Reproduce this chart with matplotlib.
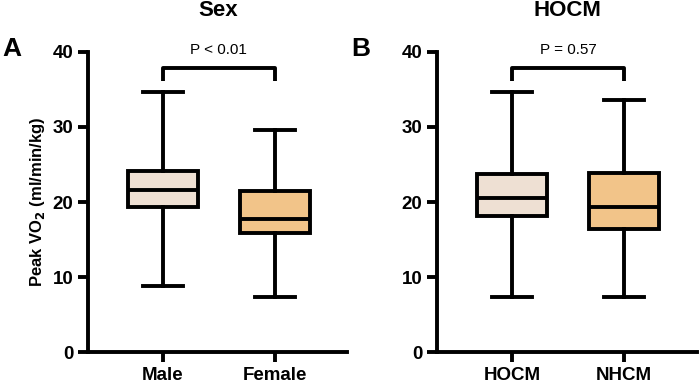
import matplotlib.pyplot as plt

# box stats (ml/min/kg)
sex_groups = ["Male", "Female"]
sex_whislo = [8.8, 7.3]
sex_q1 = [19.3, 15.9]
sex_med = [21.6, 17.7]
sex_q3 = [24.1, 21.5]
sex_whishi = [34.7, 29.6]
sex_p = "P < 0.01"

hocm_groups = ["HOCM", "NHCM"]
hocm_whislo = [7.3, 7.3]
hocm_q1 = [18.1, 16.4]
hocm_med = [20.5, 19.3]
hocm_q3 = [23.7, 23.9]
hocm_whishi = [34.7, 33.6]
hocm_p = "P = 0.57"

colors = ["#EEE0D3", "#F2C489"]
LW = 2.8

plt.rcParams["font.family"] = ["Liberation Sans", "DejaVu Sans"]


def panel(ax, groups, lo, q1, med, q3, hi, ptext, title, letter):
    stats = []
    for i, g in enumerate(groups):
        stats.append(dict(label=g, whislo=lo[i], q1=q1[i], med=med[i],
                          q3=q3[i], whishi=hi[i], fliers=[]))
    bp = ax.bxp(stats, positions=[0, 1], widths=0.625, capwidths=0.36,
                patch_artist=True, showfliers=False,
                boxprops=dict(linewidth=LW, edgecolor="black"),
                medianprops=dict(linewidth=LW, color="black"),
                whiskerprops=dict(linewidth=LW, color="black"),
                capprops=dict(linewidth=LW, color="black"))
    for patch, c in zip(bp["boxes"], colors):
        patch.set_facecolor(c)

    ax.set_xlim(-0.67, 1.65)
    ax.set_ylim(0, 40)
    ax.set_yticks([0, 10, 20, 30, 40])
    ax.spines["top"].set_visible(False)
    ax.spines["right"].set_visible(False)
    ax.spines["left"].set_linewidth(LW)
    ax.spines["bottom"].set_linewidth(LW)
    ax.tick_params(width=LW, length=7, labelsize=13.5)
    for lab in ax.get_xticklabels() + ax.get_yticklabels():
        lab.set_fontweight("bold")

    # significance bracket
    ax.plot([0, 0, 1, 1], [36.1, 37.9, 37.9, 36.1], color="black",
            lw=LW, clip_on=False, solid_capstyle="butt")
    ax.text(0.5, 40.2, ptext, ha="center", va="center", fontsize=11)
    ax.set_title(title, fontsize=16, fontweight="bold", pad=26)
    ax.text(-0.33, 1.01, letter, transform=ax.transAxes, fontsize=19,
            fontweight="bold", ha="left", va="center")


fig = plt.figure(figsize=(7, 3.87), dpi=100)
ax1 = fig.add_axes([0.126, 0.090, 0.370, 0.776])
ax2 = fig.add_axes([0.624, 0.090, 0.372, 0.776])

panel(ax1, sex_groups, sex_whislo, sex_q1, sex_med, sex_q3, sex_whishi,
      sex_p, "Sex", "A")
panel(ax2, hocm_groups, hocm_whislo, hocm_q1, hocm_med, hocm_q3, hocm_whishi,
      hocm_p, "HOCM", "B")

ax1.set_ylabel("Peak VO$_\\mathbf{2}$ (ml/min/kg)", fontsize=12,
               fontweight="bold", labelpad=4)

fig.savefig("out.png", dpi=100)
